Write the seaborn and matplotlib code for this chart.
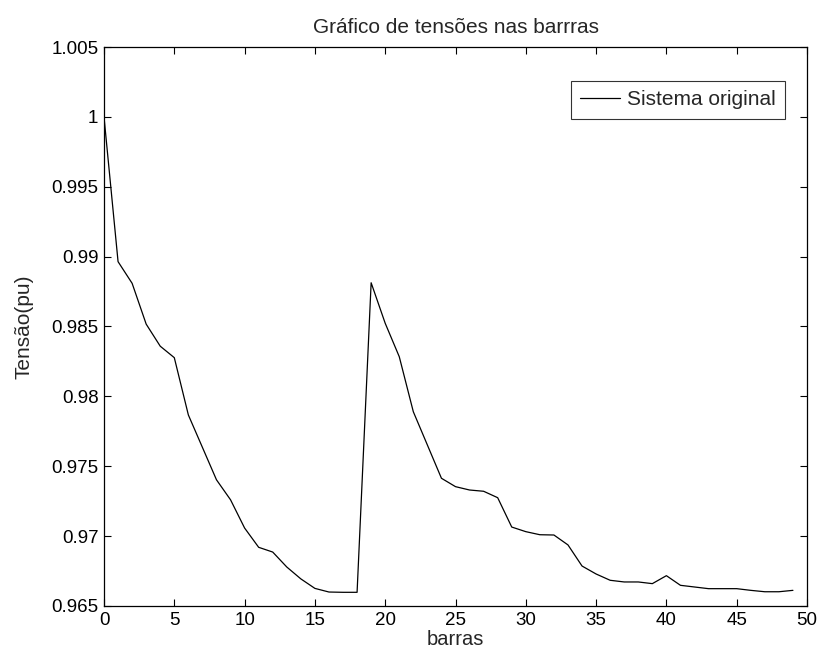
import matplotlib
matplotlib.use("Agg")
import matplotlib.pyplot as plt
import seaborn as sns
import pandas as pd
import numpy as np

barras = list(range(50))
tensao = [1.0000, 0.98964, 0.98809, 0.98517, 0.98359, 0.98277, 0.97867, 0.97635, 0.97403, 0.97260,
          0.97058, 0.96920, 0.96886, 0.96779, 0.96694, 0.96626, 0.96600, 0.96598, 0.96598, 0.98813,
          0.98523, 0.98284, 0.97890, 0.97652, 0.97414, 0.97354, 0.97330, 0.97321, 0.97275, 0.97065,
          0.97032, 0.97010, 0.97008, 0.96937, 0.96786, 0.96729, 0.96684, 0.96672, 0.96672, 0.96660,
          0.96717, 0.96648, 0.96636, 0.96624, 0.96624, 0.96624, 0.96612, 0.96602, 0.96602, 0.96612]
serie = "Sistema original"
titulo = "Gráfico de tensões nas barrras"
xlabel = "barras"
ylabel = "Tensão(pu)"
xticks = [0, 5, 10, 15, 20, 25, 30, 35, 40, 45, 50]
yticks = [0.965, 0.97, 0.975, 0.98, 0.985, 0.99, 0.995, 1.0, 1.005]
ytick_labels = ["0.965", "0.97", "0.975", "0.98", "0.985", "0.99", "0.995", "1", "1.005"]

sns.set_style("white")
plt.rcParams['font.family'] = ['Liberation Sans', 'DejaVu Sans']

df = pd.DataFrame({"barras": barras, "tensao": tensao, "serie": serie})

fig = plt.figure(figsize=(8.22, 6.57), dpi=100)
ax = fig.add_axes([104/822, 1 - 606/657, (807 - 104)/822, (606 - 47)/657])
sns.lineplot(data=df, x="barras", y="tensao", hue="serie", palette=["black"],
             linewidth=0.9, ax=ax, legend=True)

ax.set_xlim(0, 50)
ax.set_ylim(0.965, 1.005)
ax.set_xticks(xticks)
ax.set_xticklabels([str(t) for t in xticks])
ax.set_yticks(yticks)
ax.set_yticklabels(ytick_labels)
ax.tick_params(direction="in", length=5, width=0.8, labelsize=13.5, top=True, right=True,
               bottom=True, left=True, colors="black", pad=4)
for s in ax.spines.values():
    s.set_visible(True)
    s.set_color("black")
    s.set_linewidth(0.9)

ax.set_title(titulo, fontsize=15, pad=10)
ax.set_xlabel(xlabel, fontsize=14.5, labelpad=1)
ax.set_ylabel(ylabel, fontsize=15, labelpad=13)

leg = ax.legend(loc="upper right", bbox_to_anchor=((785 - 104)/703, (606 - 81)/559),
                fontsize=15, frameon=True, fancybox=False,
                edgecolor="black", handlelength=1.9, handletextpad=0.35,
                borderaxespad=0.0, borderpad=0.45)
leg.get_frame().set_linewidth(0.8)

fig.savefig("out.png", dpi=100, facecolor="white")
